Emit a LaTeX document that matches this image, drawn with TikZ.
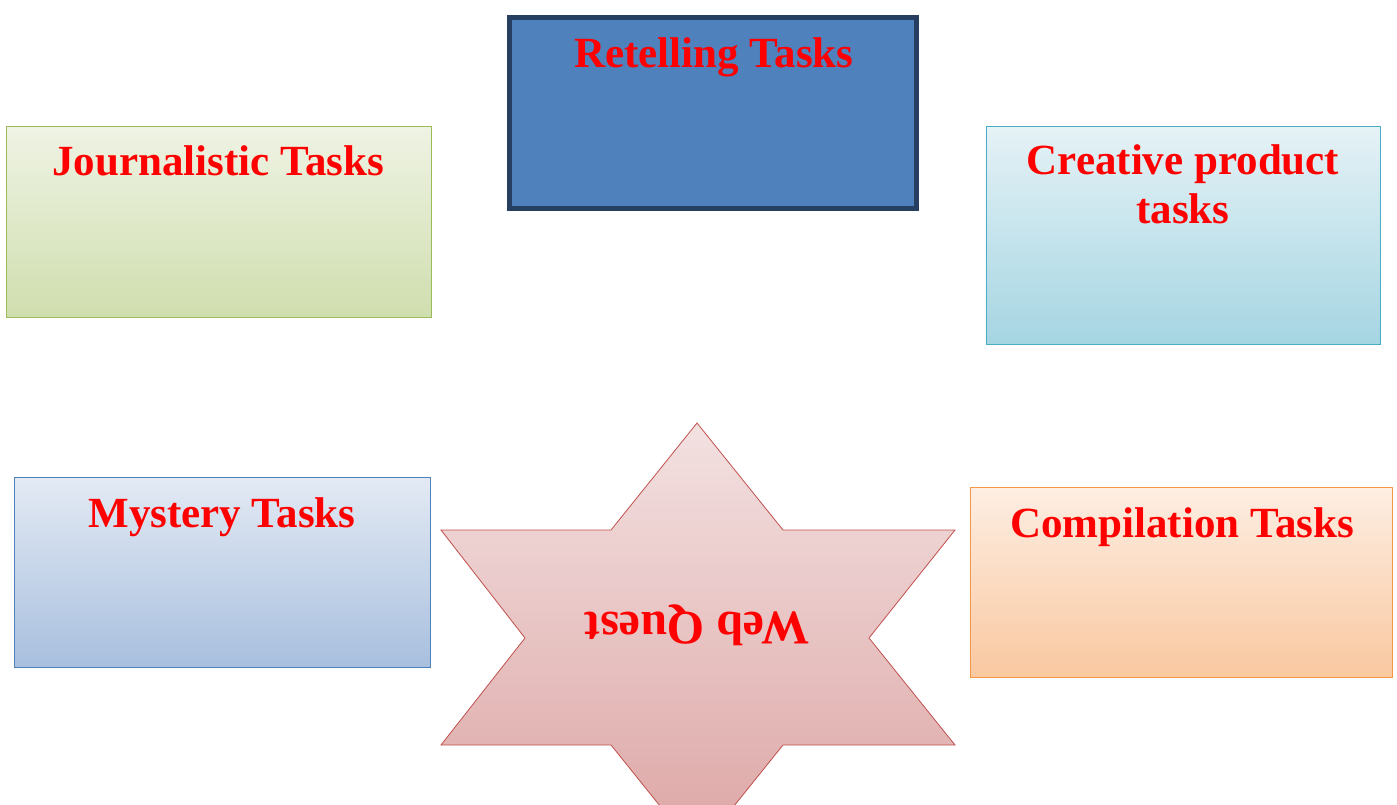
\documentclass[tikz,border=0pt]{standalone}
\usepackage{fontspec}
\setmainfont{Liberation Serif}
\definecolor{retellfill}{HTML}{4F81BD}
\definecolor{retelldraw}{HTML}{263F61}
\definecolor{journdraw}{HTML}{9BBB59}
\definecolor{journtop}{HTML}{EFF3E4}
\definecolor{journbot}{HTML}{CFDEAE}
\definecolor{creadraw}{HTML}{4BACC6}
\definecolor{creatop}{HTML}{E5F2F6}
\definecolor{creabot}{HTML}{A5D5E2}
\definecolor{mystdraw}{HTML}{4F81BD}
\definecolor{mysttop}{HTML}{E3EAF4}
\definecolor{mystbot}{HTML}{A8BFDE}
\definecolor{compdraw}{HTML}{F79646}
\definecolor{comptop}{HTML}{FDEEE3}
\definecolor{compbot}{HTML}{F9C8A0}
\definecolor{stardraw}{HTML}{C0504D}
\definecolor{startop}{HTML}{F3E1E1}
\definecolor{starbot}{HTML}{DCA5A4}
\definecolor{titlered}{HTML}{FF0000}
\tikzset{
  taskbox/.style={draw, rectangle, inner sep=0pt, line width=1pt},
  tasktitle/.style={text=titlered, anchor=base, align=center,
    font=\fontsize{43}{48}\selectfont\bfseries}
}
\begin{document}
\begin{tikzpicture}[x=1pt,y=-1pt]
\useasboundingbox (0,0) rectangle (1397,805);
\clip (0,0) rectangle (1397,805);
% boxes
\node[taskbox, draw=retelldraw, line width=5pt, fill=retellfill,
  minimum width=407pt, minimum height=191pt] (retell) at (713,113) {};
\node[taskbox, draw=journdraw, top color=journtop, bottom color=journbot,
  minimum width=425pt, minimum height=190pt] (journ) at (218.5,222) {};
\node[taskbox, draw=creadraw, top color=creatop, bottom color=creabot,
  minimum width=394pt, minimum height=217pt] (crea) at (1183,235.5) {};
\node[taskbox, draw=mystdraw, top color=mysttop, bottom color=mystbot,
  minimum width=416pt, minimum height=190pt] (myst) at (222,572) {};
\node[taskbox, draw=compdraw, top color=comptop, bottom color=compbot,
  minimum width=422pt, minimum height=190pt] (comp) at (1181,582) {};
% star
\draw[stardraw, line width=0.8pt, top color=startop, bottom color=starbot]
  (697,423) -- (783,530) -- (955,530) -- (869,638) -- (955,745)
  -- (783,745) -- (697,852) -- (611,745) -- (441,745) -- (525,638)
  -- (441,530) -- (611,530) -- cycle;
% titles
\node[tasktitle] (retelltitle) at (714,68) {Retelling Tasks};
\node[tasktitle] (journtitle) at (218,176) {Journalistic Tasks};
\node[tasktitle] (creatitle) at (1183,223) {Creative product\\tasks};
\node[tasktitle] (mysttitle) at (222,527) {Mystery Tasks};
\node[tasktitle] (comptitle) at (1182,537) {Compilation Tasks};
\node[text=titlered, font=\fontsize{48}{50}\selectfont\bfseries, rotate=180]
  (webquest) at (697,625) {Web Quest};
\end{tikzpicture}
\end{document}
